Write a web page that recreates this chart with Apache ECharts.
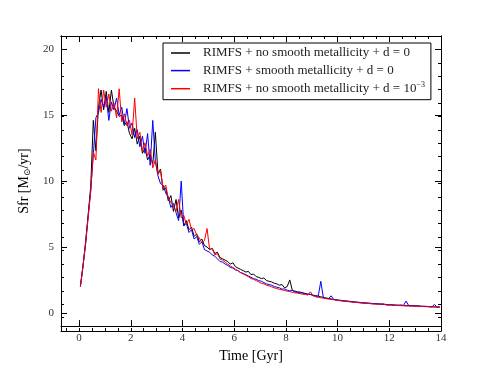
<!DOCTYPE html>
<html>
<head>
<meta charset="utf-8">
<script src="https://cdn.jsdelivr.net/npm/echarts@6/dist/echarts.min.js"></script>
<style>
  html, body { margin: 0; padding: 0; background: #fff; }
  #sfrChart { width: 491px; height: 368px; }
</style>
</head>
<body>
<div id="sfrChart"></div>
<script>
// time grid [Gyr]
var time = [
  0.05, 0.15, 0.25, 0.35, 0.45, 0.55, 0.65, 0.75, 0.85, 0.95,
  1.05, 1.15, 1.25, 1.35, 1.45, 1.55, 1.65, 1.75, 1.85, 1.95,
  2.05, 2.15, 2.25, 2.35, 2.45, 2.55, 2.65, 2.75, 2.85, 2.95,
  3.05, 3.15, 3.25, 3.35, 3.45, 3.55, 3.65, 3.75, 3.85, 3.95,
  4.05, 4.15, 4.25, 4.35, 4.45, 4.55, 4.65, 4.75, 4.85, 4.95,
  5.05, 5.15, 5.25, 5.35, 5.45, 5.55, 5.65, 5.75, 5.85, 5.95,
  6.05, 6.15, 6.25, 6.35, 6.45, 6.55, 6.65, 6.75, 6.85, 6.95,
  7.05, 7.15, 7.25, 7.35, 7.45, 7.55, 7.65, 7.75, 7.85, 7.95,
  8.05, 8.15, 8.25, 8.35, 8.45, 8.55, 8.65, 8.75, 8.85, 8.95,
  9.05, 9.15, 9.25, 9.35, 9.45, 9.55, 9.65, 9.75, 9.85, 9.95,
  10.05, 10.15, 10.25, 10.35, 10.45, 10.55, 10.65, 10.75, 10.85, 10.95,
  11.05, 11.15, 11.25, 11.35, 11.45, 11.55, 11.65, 11.75, 11.85, 11.95,
  12.05, 12.15, 12.25, 12.35, 12.45, 12.55, 12.65, 12.75, 12.85, 12.95,
  13.05, 13.15, 13.25, 13.35, 13.45, 13.55, 13.65, 13.75, 13.85, 13.95
];

// RIMFS + no smooth metallicity + d = 0
var sfrNoSmooth = [
  2.0, 3.6, 5.2, 7.4, 9.6, 14.6, 12.3, 15.6, 16.9, 15.4,
  16.8, 15.2, 16.9, 15.6, 15.3, 14.9, 15.0, 14.2, 14.5, 13.6,
  13.2, 14.0, 12.8, 13.4, 12.1, 12.5, 11.6, 12.0, 11.3, 13.7,
  10.6, 10.9, 9.3, 9.5, 8.5, 8.9, 7.7, 8.6, 7.2, 7.8,
  6.6, 7.0, 6.3, 6.5, 5.8, 6.0, 5.4, 5.6, 5.1, 5.0,
  4.8, 4.9, 4.5, 4.6, 4.2, 4.1, 4.0, 3.9, 3.7, 3.8,
  3.5, 3.4, 3.3, 3.2, 3.1, 3.15, 2.9, 2.95, 2.75, 2.7,
  2.6, 2.65, 2.45, 2.4, 2.35, 2.25, 2.2, 2.1, 2.15, 1.9,
  2.0, 2.5, 1.7, 1.65, 1.6, 1.58, 1.52, 1.48, 1.42, 1.4,
  1.35, 1.3, 1.28, 1.22, 1.18, 1.12, 1.1, 1.06, 1.02, 1.0,
  0.96, 0.95, 0.9, 0.9, 0.86, 0.85, 0.82, 0.8, 0.79, 0.76,
  0.75, 0.74, 0.72, 0.7, 0.7, 0.68, 0.66, 0.66, 0.63, 0.6,
  0.62, 0.6, 0.58, 0.58, 0.57, 0.56, 0.55, 0.55, 0.54, 0.53,
  0.53, 0.52, 0.5, 0.5, 0.49, 0.48, 0.47, 0.46, 0.45, 0.45
];

// RIMFS + smooth metallicity + d = 0
var sfrSmooth = [
  2.0, 3.5, 5.4, 7.4, 9.3, 12.0, 14.8, 15.2, 16.2, 15.6,
  16.4, 14.6, 16.0, 15.4, 16.3, 15.0, 15.6, 14.3, 15.5, 14.0,
  14.4, 13.3, 13.9, 12.6, 13.4, 12.1, 13.6, 11.2, 14.6, 11.5,
  10.4, 9.8, 9.7, 9.1, 8.8, 8.0, 8.3, 7.6, 7.0, 10.0,
  6.6, 6.8, 6.1, 6.3, 5.6, 5.8, 5.2, 5.4, 4.8, 4.7,
  4.6, 4.4, 4.3, 4.1, 3.9, 3.85, 3.7, 3.6, 3.45, 3.4,
  3.25, 3.2, 3.05, 3.0, 2.9, 2.8, 2.7, 2.6, 2.55, 2.45,
  2.4, 2.3, 2.2, 2.15, 2.1, 2.0, 1.95, 1.9, 1.8, 1.82,
  1.72, 1.68, 1.7, 1.6, 1.55, 1.52, 1.5, 1.45, 1.42, 1.4,
  1.32, 1.28, 1.25, 2.4, 1.15, 1.12, 1.08, 1.3, 1.02, 0.98,
  0.96, 0.93, 0.92, 0.9, 0.88, 0.86, 0.84, 0.82, 0.8, 0.78,
  0.76, 0.75, 0.73, 0.72, 0.7, 0.69, 0.68, 0.66, 0.65, 0.63,
  0.62, 0.6, 0.59, 0.58, 0.6, 0.57, 0.9, 0.56, 0.55, 0.54,
  0.53, 0.52, 0.5, 0.5, 0.49, 0.47, 0.46, 0.65, 0.42, 0.45
];

// RIMFS + no smooth metallicity + d = 1e-3
var sfrNoSmoothD3 = [
  2.0, 3.5, 5.2, 7.2, 9.2, 12.2, 11.6, 17.0, 15.2, 16.9,
  15.6, 16.6, 15.3, 15.9, 14.8, 17.0, 14.5, 15.1, 14.2, 14.6,
  13.5, 16.3, 13.2, 13.7, 12.3, 12.9, 11.9, 12.4, 11.0, 11.6,
  10.5, 10.8, 9.4, 9.7, 8.7, 8.4, 8.1, 7.7, 8.6, 7.2,
  7.4, 6.7, 7.1, 6.3, 6.4, 5.9, 5.7, 5.3, 5.5, 6.4,
  4.8, 4.9, 4.4, 4.5, 4.1, 4.0, 3.85, 3.7, 3.55, 3.45,
  3.3, 3.2, 3.05, 2.95, 2.85, 2.75, 2.6, 2.55, 2.45, 2.35,
  2.25, 2.2, 2.1, 2.05, 1.98, 1.9, 1.85, 1.78, 1.75, 1.7,
  1.65, 1.62, 1.55, 1.52, 1.5, 1.46, 1.42, 1.4, 1.35, 1.6,
  1.3, 1.22, 1.18, 1.15, 1.12, 1.08, 1.05, 1.02, 1.0, 0.96,
  0.94, 0.9, 0.9, 0.86, 0.85, 0.82, 0.8, 0.79, 0.76, 0.75,
  0.72, 0.72, 0.7, 0.68, 0.67, 0.66, 0.64, 0.7, 0.62, 0.6,
  0.6, 0.58, 0.57, 0.56, 0.55, 0.54, 0.53, 0.52, 0.52, 0.51,
  0.5, 0.5, 0.49, 0.48, 0.47, 0.46, 0.45, 0.45, 0.44, 0.43
];

var xTickLabels = [0, 2, 4, 6, 8, 10, 12, 14];
var yTickLabels = [0, 5, 10, 15, 20];
var xMinorTicks = [-0.5, 0, 0.5, 1, 1.5, 2, 2.5, 3, 3.5, 4, 4.5, 5, 5.5, 6, 6.5, 7, 7.5, 8, 8.5, 9, 9.5, 10, 10.5, 11, 11.5, 12, 12.5, 13, 13.5, 14];
var yMinorTicks = [-1, 0, 1, 2, 3, 4, 5, 6, 7, 8, 9, 10, 11, 12, 13, 14, 15, 16, 17, 18, 19, 20, 21];

var legendNames = [
  "RIMFS + no smooth metallicity + d = 0",
  "RIMFS + smooth metallicity + d = 0",
  "RIMFS + no smooth metallicity + d = 10"
];

var serif = "'Liberation Serif', 'DejaVu Serif', serif";
var X_MIN = -0.7, X_MAX = 14, Y_MIN = -1, Y_MAX = 21;

let pairs = (xs, ys) => xs.map((x, i) => [x, ys[i]]);

// one axis of the frame: labels / major ticks / minor ticks
let makeX = (grid, pos, ticks, len, labels) => ({
  type: "value", gridIndex: grid, position: pos, min: X_MIN, max: X_MAX,
  axisLine: { show: true, onZero: false, lineStyle: { color: "#000", width: 1 } },
  axisTick: { show: true, inside: true, length: len, customValues: ticks, lineStyle: { color: "#000" } },
  axisLabel: labels
    ? { show: true, customValues: labels, color: "#333", fontSize: 11, fontFamily: serif, margin: 7 }
    : { show: false },
  splitLine: { show: false }
});
let makeY = (grid, pos, ticks, len, labels) => ({
  type: "value", gridIndex: grid, position: pos, min: Y_MIN, max: Y_MAX,
  axisLine: { show: true, onZero: false, lineStyle: { color: "#000", width: 1 } },
  axisTick: { show: true, inside: true, length: len, customValues: ticks, lineStyle: { color: "#000" } },
  axisLabel: labels
    ? { show: true, customValues: labels, color: "#333", fontSize: 11, fontFamily: serif, margin: 7 }
    : { show: false },
  splitLine: { show: false }
});

var xAxes = [
  makeX(0, "bottom", xTickLabels, 6, xTickLabels),
  makeX(0, "top", xTickLabels, 6, null),
  makeX(1, "bottom", xMinorTicks, 3, null),
  makeX(1, "top", xMinorTicks, 3, null)
];
xAxes[0].name = "Time [Gyr]";
xAxes[0].nameLocation = "middle";
xAxes[0].nameGap = 18;
xAxes[0].nameTextStyle = { color: "#000", fontSize: 14, fontFamily: serif };

var yAxes = [
  makeY(0, "left", yTickLabels, 6, yTickLabels),
  makeY(0, "right", yTickLabels, 6, null),
  makeY(1, "left", yMinorTicks, 3, null),
  makeY(1, "right", yMinorTicks, 3, null)
];
yAxes[0].name = "Sfr [M{sub|\u2299}/yr]";
yAxes[0].nameLocation = "middle";
yAxes[0].nameGap = 14;
yAxes[0].nameTextStyle = {
  color: "#000", fontSize: 14, fontFamily: serif,
  rich: { sub: { fontSize: 9, fontFamily: serif, color: "#000", padding: [6, 0, 0, 0] } }
};

var gridBox = { left: 61, right: 50, top: 36, bottom: 37, containLabel: false };

let option = {
  animation: false,
  backgroundColor: "#fff",
  grid: [Object.assign({}, gridBox), Object.assign({}, gridBox)],
  xAxis: xAxes,
  yAxis: yAxes,
  legend: {
    orient: "vertical",
    left: 163,
    top: 43,
    padding: [3, 6, 4, 8],
    icon: "rect",
    itemWidth: 19,
    itemHeight: 1.5,
    itemGap: 3.6,
    borderColor: "#000",
    borderWidth: 1,
    borderRadius: 0,
    backgroundColor: "#fff",
    data: legendNames,
    formatter: name => name === legendNames[2] ? name + "{sup|\u22123}" : name,
    textStyle: {
      color: "#222", fontSize: 13, fontFamily: serif, lineHeight: 14, padding: [0, 0, 0, 8],
      rich: { sup: { fontSize: 8, fontFamily: serif, color: "#222", padding: [0, 0, 7, 0] } }
    }
  },
  series: [
    { name: legendNames[0], type: "line", xAxisIndex: 0, yAxisIndex: 0, symbol: "none",
      data: pairs(time, sfrNoSmooth), lineStyle: { color: "#000", width: 1 }, itemStyle: { color: "#000" } },
    { name: legendNames[1], type: "line", xAxisIndex: 0, yAxisIndex: 0, symbol: "none",
      data: pairs(time, sfrSmooth), lineStyle: { color: "#0000ff", width: 1 }, itemStyle: { color: "#0000ff" } },
    { name: legendNames[2], type: "line", xAxisIndex: 0, yAxisIndex: 0, symbol: "none",
      data: pairs(time, sfrNoSmoothD3), lineStyle: { color: "#ff0000", width: 1 }, itemStyle: { color: "#ff0000" } }
  ]
};

let myChart = echarts.init(document.getElementById("sfrChart"));
myChart.setOption(option);
</script>
</body>
</html>
